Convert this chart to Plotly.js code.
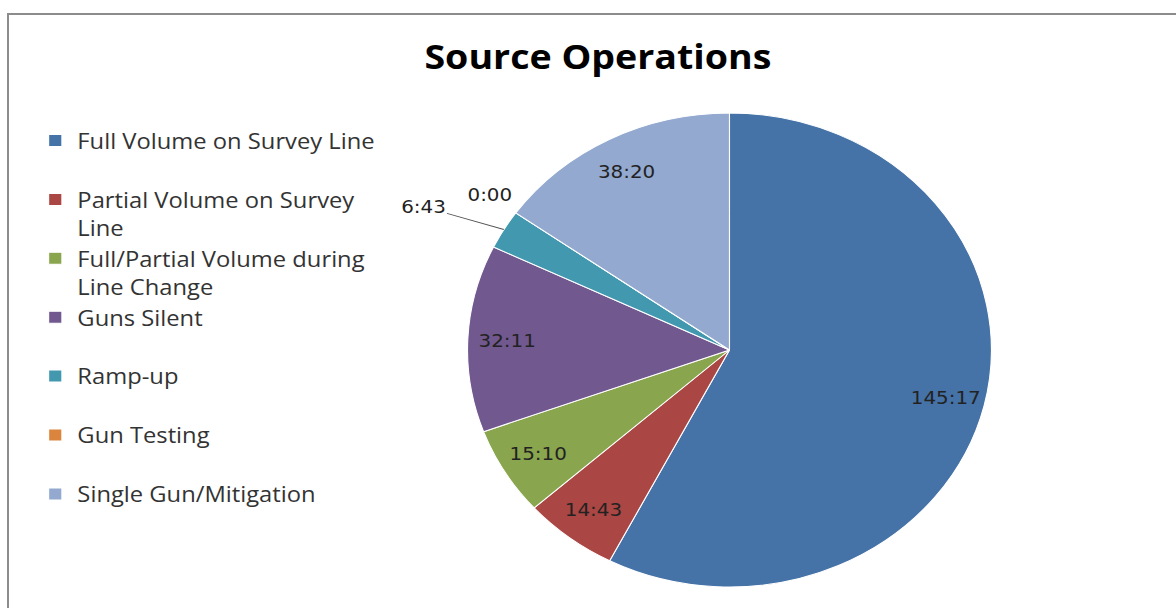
<!DOCTYPE html>
<html><head><meta charset="utf-8">
<script src="https://cdn.plot.ly/plotly-3.0.1.min.js"></script>
<style>
html,body{margin:0;padding:0;background:#fff;overflow:hidden;width:1176px;height:608px;}
#chart{position:absolute;left:0;top:0;width:1064px;height:608px;transform:scaleX(1.10526);transform-origin:0 0;}
#frame{position:absolute;left:7px;top:13px;width:1300px;height:800px;border-top:2px solid #8c8c8c;border-left:2px solid #8c8c8c;pointer-events:none;}
</style></head><body>
<div id="chart"></div><div id="frame"></div>
<script>
// ---- data ----
const categories = [
  'Full Volume on Survey Line',
  'Partial Volume on Survey Line',
  'Full/Partial Volume during Line Change',
  'Guns Silent',
  'Ramp-up',
  'Gun Testing',
  'Single Gun/Mitigation'
];
const durations = ['145:17', '14:43', '15:10', '32:11', '6:43', '0:00', '38:20']; // h:mm
const chartTitle = 'Source Operations';

// ---- style ----
const sliceColors = ['#4572A7', '#AA4643', '#89A54E', '#71588F', '#4198AF', '#DB843D', '#93A9CF'];
const W = 1064, H = 608;            // drawn, then stretched horizontally to 1176
const pieCx = 660, pieCy = 350, pieR = 237; // px in drawing space
const labelRadius = 0.85;
const outsideOffsets = {4: [-73, -23], 5: [-24, -18]};

const minutes = durations.map(d => { const p = d.split(':'); return (+p[0]) * 60 + (+p[1]); });
const total = minutes.reduce((a, b) => a + b, 0);

function wrap(s, max) {
  const words = s.split(' '); const lines = []; let cur = '';
  words.forEach(w => { const t = cur ? cur + ' ' + w : w; if (t.length > max && cur) { lines.push(cur); cur = w; } else cur = t; });
  lines.push(cur);
  if (lines.length === 1) lines.push(' ');
  return lines.join('<br>');
}
const legendLabels = categories.map(c => wrap(c, 26));

const domX = [(pieCx - pieR) / W, (pieCx + pieR) / W];
const domY = [(H - pieCy - pieR) / H, (H - pieCy + pieR) / H];

const trace = {
  type: 'pie',
  labels: legendLabels,
  values: minutes,
  sort: false,
  direction: 'clockwise',
  rotation: 0,
  textinfo: 'none',
  hoverinfo: 'label+text',
  text: durations,
  marker: {colors: sliceColors, line: {color: '#ffffff', width: 1}},
  domain: {x: domX, y: domY},
  showlegend: true
};

// label annotations from slice angles
const cxp = (domX[0] + domX[1]) / 2, cyp = (domY[0] + domY[1]) / 2;
const rxp = pieR / W, ryp = pieR / H;
const labelFont = {family: 'DejaVu Sans', size: 18, color: '#222'};
const annotations = [];
let cum = 0;
minutes.forEach((v, i) => {
  const mid = (cum + v / 2) / total * 2 * Math.PI;
  cum += v;
  const frac = v / total;
  if (frac >= 0.03) {
    annotations.push({
      x: cxp + rxp * labelRadius * Math.sin(mid), y: cyp + ryp * labelRadius * Math.cos(mid),
      xref: 'paper', yref: 'paper', xanchor: 'center', yanchor: 'middle',
      text: durations[i], showarrow: false, font: labelFont
    });
  } else {
    const off = outsideOffsets[i] || [-40, -30];
    annotations.push({
      x: cxp + rxp * Math.sin(mid), y: cyp + ryp * Math.cos(mid),
      xref: 'paper', yref: 'paper', xanchor: 'center', yanchor: 'middle',
      text: durations[i],
      showarrow: v > 0, arrowhead: 0, arrowwidth: 1, arrowcolor: '#555', standoff: 0,
      ax: off[0], ay: off[1],
      xshift: v > 0 ? 0 : off[0], yshift: v > 0 ? 0 : -off[1],
      font: labelFont
    });
  }
});

const layout = {
  width: W, height: H,
  margin: {l: 0, r: 0, t: 0, b: 0},
  paper_bgcolor: '#ffffff',
  title: {
    text: chartTitle, x: 541 / W, xref: 'paper', xanchor: 'center',
    y: 1 - 57 / H, yref: 'container', yanchor: 'middle',
    font: {family: 'Open Sans', size: 34, color: '#000', weight: 'bold'}
  },
  legend: {
    x: 30 / W, xanchor: 'left', y: 1 - 120 / H, yanchor: 'top',
    valign: 'top', font: {family: 'Open Sans', size: 21.5, color: '#333'},
    bgcolor: 'rgba(0,0,0,0)'
  },
  annotations: annotations
};

Plotly.newPlot('chart', [trace], layout, {displayModeBar: false, staticPlot: true});
</script>
</body></html>
